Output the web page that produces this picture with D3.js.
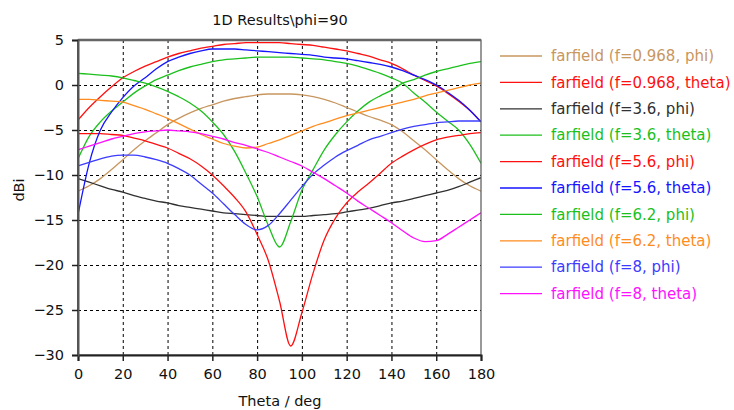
<!DOCTYPE html>
<html><head><meta charset="utf-8">
<script src="https://cdn.jsdelivr.net/npm/d3@7"></script>
<style>
body{margin:0;background:#fff;}
svg{display:block;font-family:"DejaVu Sans",Verdana,sans-serif;}
</style></head><body>
<svg id="chart" width="734" height="410"></svg>
<script>
const theta = [0,5,10,15,20,25,30,35,40,45,50,55,60,65,70,75,80,85,90,95,100,105,110,115,120,125,130,135,140,145,150,155,160,165,170,175,180];

const f0968phi   = [-11.8,-11.2,-10.4,-9.4,-8.3,-7.2,-6.2,-5.3,-4.4,-3.7,-3.1,-2.6,-2.2,-1.8,-1.5,-1.3,-1.1,-1.0,-1.0,-1.0,-1.1,-1.3,-1.6,-2.0,-2.5,-3.0,-3.5,-3.9,-4.4,-5.2,-6.2,-7.2,-8.3,-9.4,-10.4,-11.2,-11.8];
const f0968theta = [-3.9,-2.5,-1.3,-0.2,0.8,1.5,2.1,2.6,3.1,3.5,3.8,4.1,4.3,4.5,4.6,4.7,4.7,4.7,4.7,4.6,4.5,4.4,4.2,4.0,3.8,3.5,3.2,2.8,2.4,1.8,1.1,0.5,-0.1,-0.9,-1.8,-2.8,-4.1];
const f36phi     = [-10.4,-10.8,-11.2,-11.6,-11.9,-12.3,-12.6,-12.9,-13.1,-13.4,-13.6,-13.8,-14.0,-14.2,-14.3,-14.4,-14.5,-14.6,-14.6,-14.6,-14.6,-14.5,-14.4,-14.3,-14.1,-13.9,-13.7,-13.4,-13.1,-12.9,-12.6,-12.3,-12.0,-11.7,-11.3,-10.8,-10.3];
const f36theta   = [-8.2,-5.7,-4.1,-2.9,-1.9,-0.9,-0.1,0.6,1.1,1.6,2.0,2.3,2.6,2.8,2.9,3.0,3.1,3.1,3.1,3.1,3.0,2.9,2.8,2.6,2.4,2.1,1.7,1.3,0.8,0.2,-0.9,-1.9,-3.0,-4.0,-5.0,-6.6,-8.7];
const f56phi     = [-5.4,-5.4,-5.4,-5.5,-5.6,-5.9,-6.2,-6.6,-7.0,-7.6,-8.2,-9.0,-10.0,-11.2,-12.5,-14.1,-16.6,-19.5,-24.0,-29.0,-25.3,-20.9,-17.2,-14.8,-13.1,-11.9,-10.9,-9.8,-8.7,-7.9,-7.2,-6.6,-6.1,-5.8,-5.6,-5.4,-5.3];
const f56theta   = [-14.4,-8.7,-5.0,-3.0,-1.4,-0.1,0.8,1.8,2.6,3.1,3.5,3.8,4.0,4.0,4.0,3.9,3.8,3.7,3.6,3.5,3.4,3.3,3.1,3.0,2.9,2.7,2.5,2.3,2.0,1.6,1.1,0.6,0.0,-0.8,-1.7,-2.8,-4.1];
const f62phi     = [1.3,1.2,1.1,1.0,0.8,0.5,0.2,-0.2,-0.7,-1.3,-2.0,-2.9,-4.1,-5.5,-7.4,-9.8,-12.4,-15.6,-18.0,-15.2,-11.7,-9.4,-7.2,-5.5,-4.1,-2.9,-1.9,-1.2,-0.6,0.2,0.6,1.1,1.5,1.8,2.1,2.4,2.6];
const f62theta   = [-1.6,-1.6,-1.7,-1.8,-1.9,-2.3,-2.7,-3.2,-3.7,-4.3,-4.9,-5.5,-6.0,-6.5,-6.8,-7.0,-6.9,-6.5,-6.1,-5.6,-5.1,-4.6,-4.2,-3.8,-3.4,-3.1,-2.8,-2.5,-2.2,-1.9,-1.6,-1.2,-0.9,-0.6,-0.3,0.0,0.2];
const f8phi      = [-9.0,-8.6,-8.2,-7.9,-7.8,-7.8,-8.0,-8.3,-8.7,-9.3,-10.0,-11.0,-12.0,-13.2,-14.4,-15.5,-16.1,-15.6,-14.3,-12.8,-11.3,-9.9,-8.9,-8.0,-7.3,-6.7,-6.1,-5.7,-5.3,-4.9,-4.6,-4.4,-4.2,-4.1,-4.0,-4.0,-4.0];
const f8theta    = [-7.2,-6.8,-6.4,-6.0,-5.7,-5.4,-5.2,-5.1,-5.0,-5.1,-5.2,-5.4,-5.7,-6.0,-6.4,-6.7,-7.1,-7.5,-8.0,-8.5,-9.0,-9.7,-10.4,-11.2,-12.0,-12.9,-13.7,-14.5,-15.3,-16.2,-17.0,-17.4,-17.3,-16.6,-15.8,-15.0,-14.2];

const seriesNames = ["farfield (f=0.968, phi)","farfield (f=0.968, theta)","farfield (f=3.6, phi)","farfield (f=3.6, theta)","farfield (f=5.6, phi)","farfield (f=5.6, theta)","farfield (f=6.2, phi)","farfield (f=6.2, theta)","farfield (f=8, phi)","farfield (f=8, theta)"];
const seriesValues = [f0968phi,f0968theta,f36phi,f36theta,f56phi,f56theta,f62phi,f62theta,f8phi,f8theta];
const seriesColors = ["#c8965f","#ff1010","#303030","#1cc01c","#ff1010","#1515ff","#1cc01c","#ff8c1e","#3c3cff","#ff10ff"];

const xTicks = [0,20,40,60,80,100,120,140,160,180];
const yTicks = [5,0,-5,-10,-15,-20,-25,-30];

const margin = {left:78, top:40, right:253, bottom:55};
const W = 734, H = 410;
const pw = W - margin.left - margin.right; // 403
const ph = H - margin.top - margin.bottom; // 315

const svg = d3.select("#chart");
const g = svg.append("g").attr("transform",`translate(${margin.left},${margin.top})`);

const x = d3.scaleLinear().domain([0,180]).range([0,pw]);
const y = d3.scaleLinear().domain([-30,5]).range([ph,0]);

// grid
const gx = g.append("g").attr("transform",`translate(0,${ph})`)
  .call(d3.axisBottom(x).tickValues(xTicks.slice(1,-1)).tickSize(-ph).tickFormat(""));
gx.select(".domain").remove();
gx.selectAll("line").attr("stroke","#000").attr("stroke-dasharray","3,3").attr("stroke-width",1);
const gy = g.append("g")
  .call(d3.axisLeft(y).tickValues(yTicks.slice(1,-1)).tickSize(-pw).tickFormat(""));
gy.select(".domain").remove();
gy.selectAll("line").attr("stroke","#000").attr("stroke-dasharray","3,3").attr("stroke-width",1);

// curves
const clip = svg.append("defs").append("clipPath").attr("id","clip").append("rect")
  .attr("width",pw).attr("height",ph);
const line = d3.line().x(d=>x(d[0])).y(d=>y(d[1])).curve(d3.curveMonotoneX);
const curves = g.append("g").attr("clip-path","url(#clip)");
seriesValues.forEach((vals,i)=>{
  curves.append("path")
    .datum(theta.map((t,k)=>[t,vals[k]]))
    .attr("fill","none").attr("stroke",seriesColors[i]).attr("stroke-width",1.3)
    .attr("d",line);
});

// frame
g.append("rect").attr("width",pw).attr("height",ph).attr("fill","none")
  .attr("stroke","#555").attr("stroke-width",1.2);
g.append("line").attr("x1",0).attr("x2",pw).attr("y1",0).attr("y2",0).attr("stroke","#666").attr("stroke-width",2.5);
g.append("line").attr("x1",0).attr("x2",0).attr("y1",0).attr("y2",ph).attr("stroke","#555").attr("stroke-width",2);

// axes
const ax = g.append("g").attr("transform",`translate(0,${ph})`)
  .call(d3.axisBottom(x).tickValues(xTicks).tickSize(6).tickPadding(8));
ax.select(".domain").attr("stroke","#222").attr("stroke-width",2);
ax.selectAll("line").attr("stroke","#222").attr("stroke-width",1.5);
ax.selectAll("text").attr("font-size","14.5px").attr("fill","#111").attr("font-family","DejaVu Sans");

const ay = g.append("g")
  .call(d3.axisLeft(y).tickValues(yTicks).tickSize(6).tickPadding(8));
ay.select(".domain").attr("stroke","#555").attr("stroke-width",2);
ay.selectAll("line").attr("stroke","#222").attr("stroke-width",1.5);
ay.selectAll("text").attr("font-size","14.5px").attr("fill","#111").attr("font-family","DejaVu Sans");

// title and axis labels
svg.append("text").attr("x",280).attr("y",25).attr("text-anchor","middle")
  .attr("font-size","14.5px").attr("fill","#111").text("1D Results\\phi=90");
svg.append("text").attr("x",280).attr("y",406).attr("text-anchor","middle")
  .attr("font-size","14.5px").attr("fill","#111").text("Theta / deg");
svg.append("text").attr("transform","translate(24,190) rotate(-90)").attr("text-anchor","middle")
  .attr("font-size","14.5px").attr("fill","#111").text("dBi");

// legend
const lg = svg.append("g");
seriesNames.forEach((name,i)=>{
  const yy = 56 + i*26.4;
  lg.append("line").attr("x1",500).attr("x2",542).attr("y1",yy).attr("y2",yy)
    .attr("stroke",seriesColors[i]).attr("stroke-width",1.3);
  lg.append("text").attr("x",551).attr("y",yy).attr("dy","0.35em")
    .attr("font-size","15px").attr("fill",seriesColors[i]).text(name);
});
</script>
</body></html>
